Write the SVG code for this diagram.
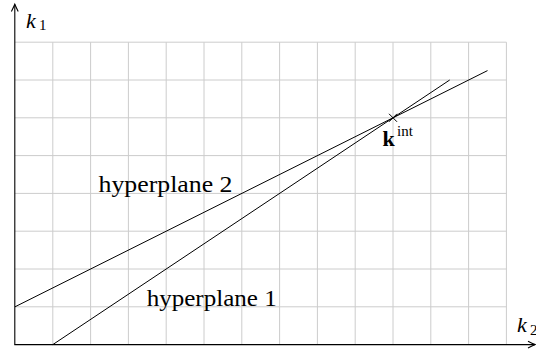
<svg xmlns="http://www.w3.org/2000/svg" width="536" height="349" viewBox="0 0 536 349">
<style>
.grid line{stroke:#cccccc;stroke-width:1}
.ax{stroke:#000;stroke-width:1.1;fill:none}
.ln{stroke:#000;stroke-width:1;fill:none}
text{font-family:'Liberation Serif','Times New Roman',serif;fill:#000}
</style>
<rect width="536" height="349" fill="#fff"/>
<g class="grid" id="grid">
<line x1="52.8" y1="42.2" x2="52.8" y2="344.6"/>
<line x1="90.6" y1="42.2" x2="90.6" y2="344.6"/>
<line x1="128.4" y1="42.2" x2="128.4" y2="344.6"/>
<line x1="166.2" y1="42.2" x2="166.2" y2="344.6"/>
<line x1="204" y1="42.2" x2="204" y2="344.6"/>
<line x1="241.8" y1="42.2" x2="241.8" y2="344.6"/>
<line x1="279.6" y1="42.2" x2="279.6" y2="344.6"/>
<line x1="317.4" y1="42.2" x2="317.4" y2="344.6"/>
<line x1="355.2" y1="42.2" x2="355.2" y2="344.6"/>
<line x1="393" y1="42.2" x2="393" y2="344.6"/>
<line x1="430.8" y1="42.2" x2="430.8" y2="344.6"/>
<line x1="468.6" y1="42.2" x2="468.6" y2="344.6"/>
<line x1="506.4" y1="42.2" x2="506.4" y2="344.6"/>
<line x1="15" y1="306.8" x2="506.4" y2="306.8"/>
<line x1="15" y1="269" x2="506.4" y2="269"/>
<line x1="15" y1="231.2" x2="506.4" y2="231.2"/>
<line x1="15" y1="193.4" x2="506.4" y2="193.4"/>
<line x1="15" y1="155.6" x2="506.4" y2="155.6"/>
<line x1="15" y1="117.8" x2="506.4" y2="117.8"/>
<line x1="15" y1="80" x2="506.4" y2="80"/>
<line x1="15" y1="42.2" x2="506.4" y2="42.2"/>
</g>
<g id="axes">
<line class="ax" x1="14.8" y1="344.6" x2="14.8" y2="4.5"/>
<path class="ax" d="M11.4,11.5 Q13.6,7.2 14.8,4.3 Q16,7.2 18.2,11.5"/>
<line class="ax" x1="14.3" y1="344.6" x2="535" y2="344.6"/>
<path class="ax" d="M528,341.2 Q532.3,343.4 535.2,344.6 Q532.3,345.8 528,348"/>
<text x="26" y="28" font-family="Liberation Serif, serif" font-size="22" font-style="italic">k</text>
<text x="39" y="30" font-family="Liberation Serif, serif" font-size="15">1</text>
<text x="517" y="332" font-family="Liberation Serif, serif" font-size="22" font-style="italic">k</text>
<text x="530" y="335" font-family="Liberation Serif, serif" font-size="15">2</text>
</g>
<g id="connectors">
<line id="hp1" class="ln" x1="52.8" y1="344.6" x2="449.7" y2="80"/>
<line id="hp2" class="ln" x1="15" y1="306.8" x2="487.5" y2="70.6"/>
</g>
<g id="intersection">
<path class="ln" d="M389,113.8 L397,121.8 M389,121.8 L397,113.8" stroke-width="1.2"/>
<text x="382.5" y="146" font-family="Liberation Serif, serif" font-size="22" font-weight="bold">k</text>
<text x="397" y="136" font-family="Liberation Serif, serif" font-size="15">int</text>
</g>
<g id="label-hp2">
<text x="98.5" y="191.7" font-family="Liberation Serif, serif" font-size="23" textLength="134" lengthAdjust="spacingAndGlyphs">hyperplane 2</text>
</g>
<g id="label-hp1">
<text x="146.7" y="306" font-family="Liberation Serif, serif" font-size="23" textLength="130" lengthAdjust="spacingAndGlyphs">hyperplane 1</text>
</g>
</svg>
